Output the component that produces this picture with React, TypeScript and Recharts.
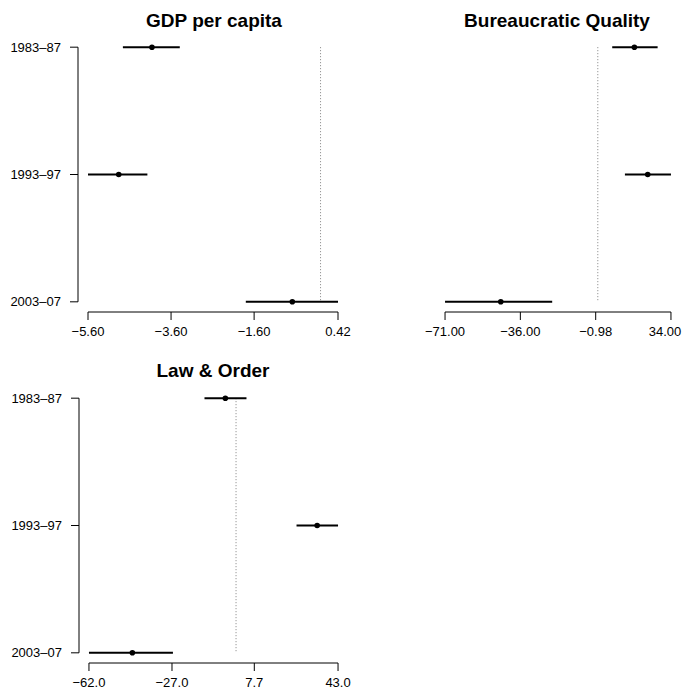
import React from "react";
import { ScatterChart, Scatter, XAxis, YAxis, ErrorBar, ReferenceLine } from "recharts";

const W = 684;
const H = 691;
const FONT = "'Liberation Sans', Arial, Helvetica, sans-serif";

const periods = ["1983–87", "1993–97", "2003–07"];

// GDP per capita
const gdpEst = [-4.06, -4.86, -0.68];
const gdpLow = [-4.76, -5.6, -1.8];
const gdpHigh = [-3.39, -4.17, 0.42];
const gdpTicks = [-5.6, -3.6, -1.6, 0.42];

// Bureaucratic Quality
const bqEst = [17.0, 23.2, -45.1];
const bqLow = [6.7, 12.6, -71];
const bqHigh = [27.8, 34, -21.2];
const bqTicks = [-71, -36, -0.98, 34];

// Law & Order
const loEst = [-4.5, 34.2, -43.7];
const loLow = [-13.3, 25.5, -62];
const loHigh = [4.4, 43, -26.6];
const loTicks = [-62, -27, 7.7, 43];

type Box = { left: number; top: number; right: number; bottom: number };

type PanelProps = {
  title: string;
  titleX: number;
  titleY: number;
  est: number[];
  low: number[];
  high: number[];
  ticks: number[];
  digits: number;
  box: Box;
  showY: boolean;
};

const fmt = (v: number, d: number) => v.toFixed(d).replace("-", "\u2212");

// keeps a tick label inside the page (the last label of the right panel sits at the edge)
function XTick(props: any) {
  const { x, y, payload, digits } = props;
  const label = fmt(payload.value, digits);
  const half = label.length * 3.6;
  const cx = Math.min(x, W - half - 1);
  return (
    <text x={cx} y={y} dy="0.71em" textAnchor="middle" fill="#000" fontSize={13} fontFamily={FONT}>
      {label}
    </text>
  );
}

// R-style 4% padding, axis lines only from first to last tick
function Panel({ title, titleX, titleY, est, low, high, ticks, digits, box, showY }: PanelProps) {
  const rows = est.map((v, i) => ({ x: v, y: i, err: [v - low[i], high[i] - v] }));
  const lo = Math.min(...low);
  const hi = Math.max(...high);
  const span = hi - lo;
  const pw = box.right - box.left;
  const ph = box.bottom - box.top;
  const padX = (pw * 0.04) / 1.08;
  const padY = (ph * 0.04) / 1.08;
  const yAxisW = 70;
  const xAxisH = 30;

  return (
    <>
      <div
        style={{
          position: "absolute",
          left: titleX - 150,
          top: titleY - 9.5,
          width: 300,
          textAlign: "center",
          fontFamily: FONT,
          fontWeight: "bold",
          fontSize: 19,
          lineHeight: "19px",
          color: "#000",
        }}
      >
        {title}
      </div>
      <div style={{ position: "absolute", left: 0, top: 0 }}>
        <ScatterChart
          width={W}
          height={H}
          margin={{
            top: box.top,
            bottom: H - box.bottom - xAxisH,
            left: showY ? box.left - yAxisW : box.left,
            right: W - box.right,
          }}
        >
          <XAxis
            type="number"
            dataKey="x"
            domain={[lo - 0.04 * span, hi + 0.04 * span]}
            ticks={ticks}
            interval={0}
            height={xAxisH}
            axisLine={{ stroke: "#000", strokeDasharray: `0 ${padX} ${pw - 2 * padX} ${pw}` }}
            tickLine={{ stroke: "#000" }}
            tickSize={8}
            tickMargin={7}
            tick={(p: any) => <XTick {...p} digits={digits} />}
          />
          <YAxis
            type="number"
            dataKey="y"
            domain={[-0.08, 2.08]}
            reversed
            ticks={[0, 1, 2]}
            interval={0}
            hide={!showY}
            width={yAxisW}
            tickFormatter={(v: number) => periods[v]}
            axisLine={{ stroke: "#000", strokeDasharray: `0 ${padY} ${ph - 2 * padY} ${ph}` }}
            tickLine={{ stroke: "#000" }}
            tickSize={8}
            tickMargin={9}
            tick={{ fill: "#000", fontSize: 13, fontFamily: FONT }}
          />
          <ReferenceLine
            segment={[
              { x: 0, y: 0 },
              { x: 0, y: periods.length - 1 },
            ]}
            stroke="#808080"
            strokeDasharray="1 2"
          />
          <Scatter
            data={rows}
            isAnimationActive={false}
            shape={(p: any) => <circle cx={p.cx} cy={p.cy} r={2.8} fill="#000" />}
          >
            <ErrorBar dataKey="err" direction="x" width={0} stroke="#000" strokeWidth={2} />
          </Scatter>
        </ScatterChart>
      </div>
    </>
  );
}

export default function App() {
  return (
    <div style={{ position: "absolute", left: 0, top: 0, width: W, height: H, background: "#fff", overflow: "hidden" }}>
      <Panel
        title="GDP per capita"
        titleX={214}
        titleY={20}
        est={gdpEst}
        low={gdpLow}
        high={gdpHigh}
        ticks={gdpTicks}
        digits={2}
        box={{ left: 78, top: 37, right: 348, bottom: 312 }}
        showY
      />
      <Panel
        title="Bureaucratic Quality"
        titleX={557}
        titleY={20}
        est={bqEst}
        low={bqLow}
        high={bqHigh}
        ticks={bqTicks}
        digits={2}
        box={{ left: 436, top: 37, right: 680, bottom: 312 }}
        showY={false}
      />
      <Panel
        title="Law & Order"
        titleX={213}
        titleY={370}
        est={loEst}
        low={loLow}
        high={loHigh}
        ticks={loTicks}
        digits={1}
        box={{ left: 79, top: 388, right: 348, bottom: 663 }}
        showY
      />
    </div>
  );
}
